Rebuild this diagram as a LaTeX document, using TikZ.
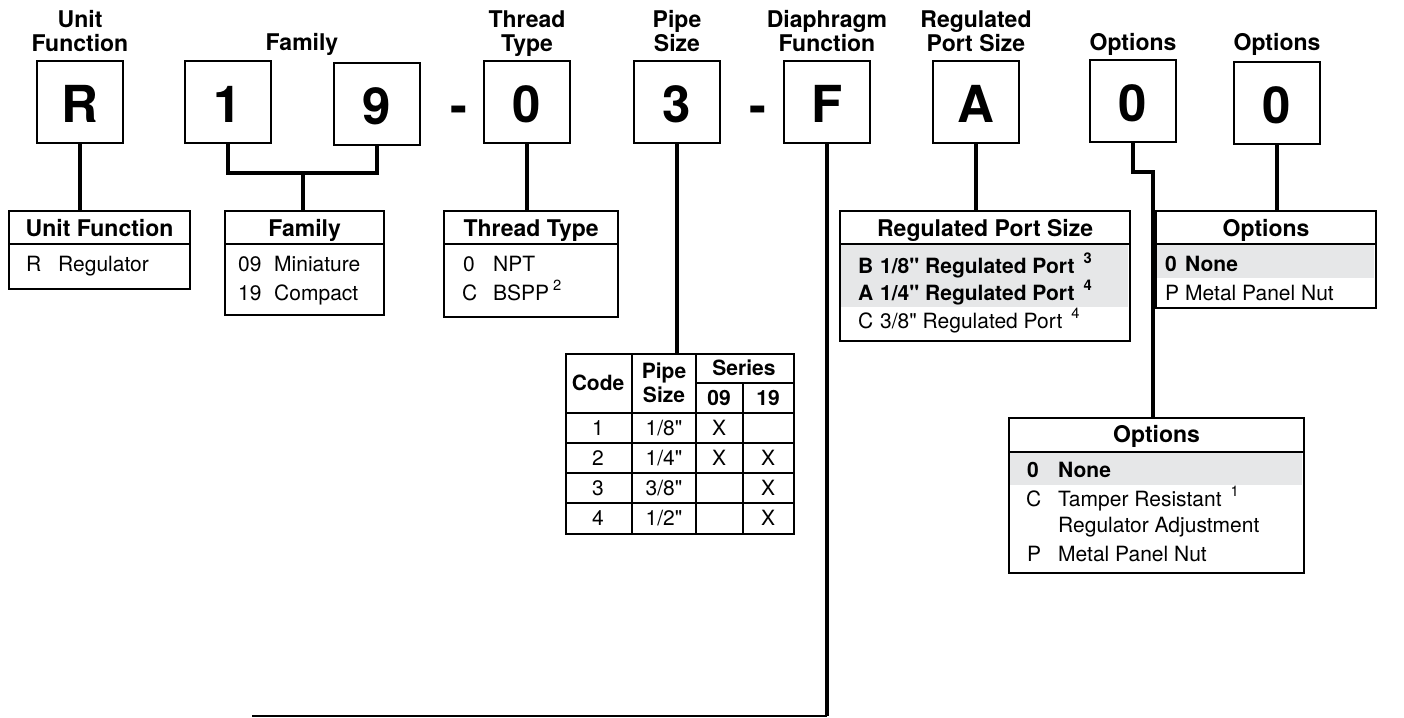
\documentclass[tikz,border=0pt]{standalone}
\usepackage{fontspec}
\setmainfont{TeX Gyre Heros}[Ligatures=TeXOff]
\usetikzlibrary{calc}

\newcommand\bigfont{\fontsize{51}{51}\selectfont\bfseries}
\newcommand\labfont{\fontsize{23}{24}\selectfont\bfseries}
\newcommand\rowfont{\fontsize{21}{24}\selectfont}
\newcommand\supno[2][9pt]{\hspace{#1}\raisebox{2pt}{\textsuperscript{#2}}}
\newcommand\inch{\symbol{"22}}

\definecolor{rowshade}{RGB}{230,231,232}

\tikzset{
  codebox/.style={draw, line width=2, minimum width=86, minimum height=82,
    inner sep=0, text height=40, text depth=0, font=\bigfont},
  toplabel/.style={anchor=south, align=center, inner sep=0, text depth=0,
    font=\labfont},
  tbl/.style={draw, line width=2.2, anchor=north west, inner sep=0},
  thead/.style={anchor=base, inner sep=0, font=\labfont},
  rowtxt/.style={anchor=base west, inner sep=0, font=\rowfont},
  cell/.style={anchor=base, inner sep=0, font=\rowfont},
  link/.style={line width=4.5},
  rule/.style={line width=2.2}
}

\begin{document}
\begin{tikzpicture}[x=1pt, y=-1pt]
\useasboundingbox (0,0) rectangle (1404,717);

% code boxes
\node[codebox] (bunit) at (80,102) {R};
\node[codebox] (bfam1) at (228,102) {1};
\node[codebox] (bfam9) at (377,104) {9};
\node[font=\bigfont, anchor=base, inner sep=0] (dash1) at (459,123) {-};
\node[codebox] (bthread) at (527,102) {0};
\node[codebox] (bpipe) at (677,102) {3};
\node[font=\bigfont, anchor=base, inner sep=0] (dash2) at (758,123) {-};
\node[codebox] (bdiaph) at (827,102) {F};
\node[codebox] (bport) at (976,102) {A};
\node[codebox] (bopta) at (1133,101) {0};
\node[codebox] (boptb) at (1277,103) {0};

% labels above
\node[toplabel] (lunit) at (bunit |- 0,52) {Unit\\Function};
\node[toplabel] (lfam) at (302,51) {Family};
\node[toplabel] (lthread) at (bthread |- 0,52) {Thread\\Type};
\node[toplabel] (lpipe) at (bpipe |- 0,52) {Pipe\\Size};
\node[toplabel] (ldiaph) at (bdiaph |- 0,52) {Diaphragm\\Function};
\node[toplabel] (lport) at (bport |- 0,52) {Regulated\\Port Size};
\node[toplabel] (lopta) at (bopta |- 0,51) {Options};
\node[toplabel] (loptb) at (boptb |- 0,51) {Options};

% shaded rows
\fill[rowshade] (840,244) rectangle (1128,307);
\fill[rowshade] (1156,244) rectangle (1374,278);
\fill[rowshade] (1009,452) rectangle (1302,485);

% tables
\node[tbl, minimum width=181, minimum height=78] (tunit) at (8,210) {};
\node[tbl, minimum width=159, minimum height=104] (tfam) at (224,210) {};
\node[tbl, minimum width=174, minimum height=106] (tthread) at (443,210) {};
\node[tbl, minimum width=228, minimum height=180] (tpipe) at (565,353) {};
\node[tbl, minimum width=290, minimum height=130] (tport) at (839,210) {};
\node[tbl, minimum width=220, minimum height=97] (toptb) at (1155,210) {};
\node[tbl, minimum width=295, minimum height=155] (topta) at (1008,417) {};

\foreach \t in {tunit,tfam,tthread,tport,toptb}
  \draw[rule] ($(\t.north west)+(0,34)$) -- ($(\t.north east)+(0,34)$);
\draw[rule] ($(topta.north west)+(0,35)$) -- ($(topta.north east)+(0,35)$);

% connectors
\coordinate (famjoin) at (303,173);
\coordinate (optkink) at (1153,172);
\coordinate (baseR) at (bdiaph |- 0,716);
\coordinate (baseL) at (252,716);
\draw[link] (bunit.south) -- (bunit.south |- tunit.north);
\draw[link] (bfam1.south) |- (famjoin) -| (bfam9.south);
\draw[link] (famjoin) -- (famjoin |- tfam.north);
\draw[link] (bthread.south) -- (bthread.south |- tthread.north);
\draw[link] (bpipe.south) -- (bpipe.south |- tpipe.north);
\draw[link] (bdiaph.south) -- (baseR);
\draw[rule] (baseL) -- (baseR);
\draw[link] (bport.south) -- (bport.south |- tport.north);
\draw[link] (bopta.south) |- (optkink) -- (optkink |- topta.north);
\draw[link] (boptb.south) -- (boptb.south |- toptb.north);

% unit function
\node[thead] (hunit) at (tunit.north |- 0,236) {Unit Function};
\node[rowtxt] (cR) at (26,271) {R};
\node[rowtxt] (dR) at (58,271) {Regulator};

% family
\node[thead] (hfam) at (tfam.north |- 0,236) {Family};
\node[rowtxt] (c09) at (238,271) {09};
\node[rowtxt] (d09) at (274,271) {Miniature};
\node[rowtxt] (c19) at (238,300) {19};
\node[rowtxt] (d19) at (274,300) {Compact};

% thread type
\node[thead] (hthread) at (tthread.north |- 0,236) {Thread Type};
\node[rowtxt] (c0) at (463,271) {0};
\node[rowtxt] (dnpt) at (493,271) {NPT};
\node[rowtxt] (cC) at (462,300) {C};
\node[rowtxt] (dbspp) at (493,300) {BSPP\supno[4pt]{2}};

% pipe size grid
\draw[rule, line width=1.8] (632,353) -- (632,533)
  (696,353) -- (696,533) (743,383) -- (743,533)
  (696,383) -- (793,383);
\foreach \y in {413,443,473,503}
  \draw[rule, line width=1.8] (565,\y) -- (793,\y);
\node[cell, font=\rowfont\bfseries] (hcode) at (598,390) {Code};
\node[cell, font=\rowfont\bfseries, align=center, anchor=center] (hsize) at (664,383) {Pipe\\Size};
\node[cell, font=\rowfont\bfseries] (hseries) at (744,375) {Series};
\node[cell, font=\rowfont\bfseries] (h09) at (719,405) {09};
\node[cell, font=\rowfont\bfseries] (h19) at (768,405) {19};
\foreach \c/\s/\a/\b [count=\i] in {1/1\slash8\inch/X/,2/1\slash4\inch/X/X,3/3\slash8\inch//X,4/1\slash2\inch//X} {
  \node[cell] (pc\i) at (598,405+30*\i) {\c};
  \node[cell] (ps\i) at (664,405+30*\i) {\s};
  \node[cell] (pa\i) at (719,405+30*\i) {\a};
  \node[cell] (pb\i) at (768,405+30*\i) {\b};
}

% regulated port size
\node[thead] (hport) at (tport.north |- 0,236) {Regulated Port Size};
\node[rowtxt, font=\rowfont\bfseries] (cB) at (858,273) {B};
\node[rowtxt, font=\rowfont\bfseries] (dB) at (880,273) {1/8\inch{} Regulated Port\supno{3}};
\node[rowtxt, font=\rowfont\bfseries] (cA) at (858,300) {A};
\node[rowtxt, font=\rowfont\bfseries] (dA) at (880,300) {1/4\inch{} Regulated Port\supno{4}};
\node[rowtxt] (cC2) at (858,328) {C};
\node[rowtxt] (dC2) at (880,328) {3/8\inch{} Regulated Port\supno{4}};

% options (right)
\node[thead] (hoptb) at (toptb.north |- 0,236) {Options};
\node[rowtxt, font=\rowfont\bfseries] (cn1) at (1165,271) {0};
\node[rowtxt, font=\rowfont\bfseries] (dn1) at (1185,271) {None};
\node[rowtxt] (cp1) at (1165,300) {P};
\node[rowtxt] (dp1) at (1185,300) {Metal Panel Nut};

% options (lower)
\node[thead] (hopta) at (topta.north |- 0,442) {Options};
\node[rowtxt, font=\rowfont\bfseries] (cn2) at (1027,477) {0};
\node[rowtxt, font=\rowfont\bfseries] (dn2) at (1058,477) {None};
\node[rowtxt] (ct2) at (1026,506) {C};
\node[rowtxt] (dt2) at (1058,506) {Tamper Resistant\supno{1}};
\node[rowtxt] (dt3) at (1058,532) {Regulator Adjustment};
\node[rowtxt] (cp2) at (1027,561) {P};
\node[rowtxt] (dp2) at (1058,561) {Metal Panel Nut};
\end{tikzpicture}
\end{document}
